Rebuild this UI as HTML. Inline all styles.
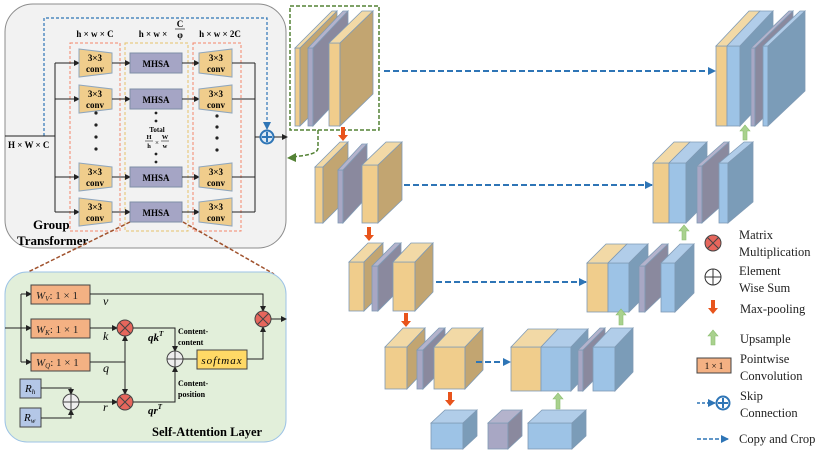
<!DOCTYPE html>
<html><head><meta charset="utf-8"><style>
html,body{margin:0;padding:0;background:#fff;}
svg{display:block;font-family:"Liberation Serif",serif;}
.y{fill:#f0cd8c}.yt{fill:#f2d9a6}.ys{fill:#c2a571}
.p{fill:#a8a7c4}.pt{fill:#b4b3cc}.ps{fill:#8a899e}
.b{fill:#9dc3e6}.bt{fill:#b1cde9}.bs{fill:#7b9cb8}
.blk polygon,.blk rect{stroke:#7f9ab5;stroke-width:.8}
.ln{stroke:#222;stroke-width:1;fill:none}
.cp{stroke:#2e75b6;stroke-width:2;stroke-dasharray:6 3;fill:none}
.bt9{font-weight:bold;font-size:9px}
</style></head><body>
<svg width="830" height="457" viewBox="0 0 830 457" xmlns="http://www.w3.org/2000/svg">
<defs>
<marker id="ah" markerWidth="6" markerHeight="6" refX="5" refY="3" orient="auto" markerUnits="userSpaceOnUse"><path d="M0,0 L6,3 L0,6z" fill="#222"/></marker>
<marker id="bh" markerWidth="8" markerHeight="8" refX="7" refY="4" orient="auto" markerUnits="userSpaceOnUse"><path d="M0,0 L8,4 L0,8z" fill="#2e75b6"/></marker>
<marker id="gh" markerWidth="10" markerHeight="10" refX="8" refY="5" orient="auto" markerUnits="userSpaceOnUse"><path d="M0,0 L10,5 L0,10z" fill="#548235"/></marker>
</defs>

<!-- Group Transformer -->
<rect x="5" y="4" width="281" height="244" rx="28" fill="#f2f2f2" stroke="#8c8c8c" stroke-width="1"/>
<rect x="70" y="43" width="50" height="188" fill="none" stroke="#f4876a" stroke-width="1" stroke-dasharray="3 2"/>
<rect x="125" y="43" width="63" height="188" fill="none" stroke="#e6c36a" stroke-width="1" stroke-dasharray="3 2"/>
<rect x="193" y="43" width="48" height="188" fill="none" stroke="#f4876a" stroke-width="1" stroke-dasharray="3 2"/>
<text x="95" y="37" class="bt9" text-anchor="middle" font-size="10">h × w × C</text>
<text x="153" y="37" class="bt9" text-anchor="middle">h × w ×</text>
<text x="180" y="27" class="bt9" text-anchor="middle">C</text>
<line x1="175" y1="29" x2="185" y2="29" stroke="#222" stroke-width=".7"/>
<text x="180" y="38" class="bt9" text-anchor="middle">φ</text>
<text x="220" y="37" class="bt9" text-anchor="middle">h × w × 2C</text>
<!-- skip dashed -->
<polyline points="44,136 44,18 267,18 267,129" fill="none" stroke="#2e75b6" stroke-width="1.2" stroke-dasharray="3 2" marker-end="url(#bh)"/>
<line x1="5" y1="136" x2="55" y2="136" class="ln"/>
<text x="8" y="148" class="bt9">H × W × C</text>
<line x1="55" y1="63" x2="55" y2="212" class="ln"/>
<line x1="255" y1="63" x2="255" y2="212" class="ln"/>
<line x1="255" y1="137" x2="261" y2="137" class="ln"/>
<circle cx="267" cy="137" r="6.5" fill="#dce9f5" stroke="#2e75b6" stroke-width="2"/>
<line x1="267" y1="132" x2="267" y2="142" stroke="#2e75b6" stroke-width="2"/><line x1="262" y1="137" x2="272" y2="137" stroke="#2e75b6" stroke-width="2"/>
<line x1="274" y1="137" x2="287" y2="137" class="ln" marker-end="url(#ah)"/>

<g id="rows">
<!-- row 63 -->
<line x1="55" y1="63" x2="79" y2="63" class="ln" marker-end="url(#ah)"/>
<polygon points="79,49 112,53 112,73 79,77" fill="#f0cd8c" stroke="#8fa6bd"/>
<text x="95" y="61" class="bt9" text-anchor="middle">3×3</text><text x="95" y="72" class="bt9" text-anchor="middle">conv</text>
<line x1="112" y1="63" x2="130" y2="63" class="ln" marker-end="url(#ah)"/>
<rect x="130" y="53" width="52" height="20" fill="#a5a5c5" stroke="#7f8fa6"/>
<text x="156" y="67" class="bt9" text-anchor="middle">MHSA</text>
<line x1="182" y1="63" x2="199" y2="63" class="ln" marker-end="url(#ah)"/>
<polygon points="199,53 232,49 232,77 199,73" fill="#f0cd8c" stroke="#8fa6bd"/>
<text x="216" y="61" class="bt9" text-anchor="middle">3×3</text><text x="216" y="72" class="bt9" text-anchor="middle">conv</text>
<line x1="232" y1="63" x2="255" y2="63" class="ln"/>
<!-- row 99 -->
<line x1="55" y1="99" x2="79" y2="99" class="ln" marker-end="url(#ah)"/>
<polygon points="79,85 112,89 112,109 79,113" fill="#f0cd8c" stroke="#8fa6bd"/>
<text x="95" y="97" class="bt9" text-anchor="middle">3×3</text><text x="95" y="108" class="bt9" text-anchor="middle">conv</text>
<line x1="112" y1="99" x2="130" y2="99" class="ln" marker-end="url(#ah)"/>
<rect x="130" y="89" width="52" height="20" fill="#a5a5c5" stroke="#7f8fa6"/>
<text x="156" y="103" class="bt9" text-anchor="middle">MHSA</text>
<line x1="182" y1="99" x2="199" y2="99" class="ln" marker-end="url(#ah)"/>
<polygon points="199,89 232,85 232,113 199,109" fill="#f0cd8c" stroke="#8fa6bd"/>
<text x="216" y="97" class="bt9" text-anchor="middle">3×3</text><text x="216" y="108" class="bt9" text-anchor="middle">conv</text>
<line x1="232" y1="99" x2="255" y2="99" class="ln"/>
<!-- row 177 -->
<line x1="55" y1="177" x2="79" y2="177" class="ln" marker-end="url(#ah)"/>
<polygon points="79,163 112,167 112,187 79,191" fill="#f0cd8c" stroke="#8fa6bd"/>
<text x="95" y="175" class="bt9" text-anchor="middle">3×3</text><text x="95" y="186" class="bt9" text-anchor="middle">conv</text>
<line x1="112" y1="177" x2="130" y2="177" class="ln" marker-end="url(#ah)"/>
<rect x="130" y="167" width="52" height="20" fill="#a5a5c5" stroke="#7f8fa6"/>
<text x="156" y="181" class="bt9" text-anchor="middle">MHSA</text>
<line x1="182" y1="177" x2="199" y2="177" class="ln" marker-end="url(#ah)"/>
<polygon points="199,167 232,163 232,191 199,187" fill="#f0cd8c" stroke="#8fa6bd"/>
<text x="216" y="175" class="bt9" text-anchor="middle">3×3</text><text x="216" y="186" class="bt9" text-anchor="middle">conv</text>
<line x1="232" y1="177" x2="255" y2="177" class="ln"/>
<!-- row 212 -->
<line x1="55" y1="212" x2="79" y2="212" class="ln" marker-end="url(#ah)"/>
<polygon points="79,198 112,202 112,222 79,226" fill="#f0cd8c" stroke="#8fa6bd"/>
<text x="95" y="210" class="bt9" text-anchor="middle">3×3</text><text x="95" y="221" class="bt9" text-anchor="middle">conv</text>
<line x1="112" y1="212" x2="130" y2="212" class="ln" marker-end="url(#ah)"/>
<rect x="130" y="202" width="52" height="20" fill="#a5a5c5" stroke="#7f8fa6"/>
<text x="156" y="216" class="bt9" text-anchor="middle">MHSA</text>
<line x1="182" y1="212" x2="199" y2="212" class="ln" marker-end="url(#ah)"/>
<polygon points="199,202 232,198 232,226 199,222" fill="#f0cd8c" stroke="#8fa6bd"/>
<text x="216" y="210" class="bt9" text-anchor="middle">3×3</text><text x="216" y="221" class="bt9" text-anchor="middle">conv</text>
<line x1="232" y1="212" x2="255" y2="212" class="ln"/>
</g>
<g fill="#222">
<circle cx="96" cy="125" r="1.6"/><circle cx="96" cy="137" r="1.6"/><circle cx="96" cy="149" r="1.6"/><circle cx="96" cy="113" r="1.6"/>
<circle cx="217" cy="127" r="1.6"/><circle cx="217" cy="138" r="1.6"/><circle cx="217" cy="150" r="1.6"/><circle cx="217" cy="116" r="1.6"/>
<circle cx="156" cy="113" r="1.4"/><circle cx="156" cy="121" r="1.4"/><circle cx="156" cy="154" r="1.4"/><circle cx="156" cy="162" r="1.4"/>
</g>
<text x="157" y="132" font-size="7" font-weight="bold" text-anchor="middle">Total</text>
<text x="149" y="139" font-size="6.5" font-weight="bold" text-anchor="middle">H</text>
<line x1="145" y1="141" x2="153" y2="141" stroke="#222" stroke-width=".6"/>
<text x="149" y="148" font-size="6.5" font-weight="bold" text-anchor="middle">h</text>
<text x="157" y="145" font-size="7" text-anchor="middle">×</text>
<text x="165" y="139" font-size="6.5" font-weight="bold" text-anchor="middle">W</text>
<line x1="161" y1="141" x2="169" y2="141" stroke="#222" stroke-width=".6"/>
<text x="165" y="148" font-size="6.5" font-weight="bold" text-anchor="middle">w</text>
<text x="33" y="229" font-size="13" font-weight="bold">Group</text>
<text x="17" y="245" font-size="13" font-weight="bold">Transformer</text>
<line x1="130" y1="222" x2="24" y2="274" stroke="#a0522d" stroke-width="1.5" stroke-dasharray="4 2"/>
<line x1="183" y1="222" x2="274" y2="274" stroke="#a0522d" stroke-width="1.5" stroke-dasharray="4 2"/>

<!-- Self-attention -->
<rect x="5" y="272" width="281" height="170" rx="22" fill="#e2efda" stroke="#9dc3e6" stroke-width="1"/>
<line x1="5" y1="328" x2="31" y2="328" class="ln" marker-end="url(#ah)"/>
<polyline points="21,294 21,362" class="ln"/>
<line x1="21" y1="294" x2="31" y2="294" class="ln" marker-end="url(#ah)"/>
<line x1="21" y1="362" x2="31" y2="362" class="ln" marker-end="url(#ah)"/>
<g font-size="11" fill="#222">
<rect x="31" y="285" width="59" height="19" fill="#f4b183" stroke="#444"/>
<text x="36" y="299" font-style="italic">W<tspan font-size="7" dy="2">V</tspan><tspan dy="-2" font-style="normal">: 1 × 1</tspan></text>
<rect x="31" y="319" width="59" height="19" fill="#f4b183" stroke="#444"/>
<text x="36" y="333" font-style="italic">W<tspan font-size="7" dy="2">K</tspan><tspan dy="-2" font-style="normal">: 1 × 1</tspan></text>
<rect x="31" y="353" width="59" height="18" fill="#f4b183" stroke="#444"/>
<text x="36" y="366" font-style="italic">W<tspan font-size="7" dy="2">Q</tspan><tspan dy="-2" font-style="normal">: 1 × 1</tspan></text>
</g>
<rect x="20" y="379" width="21" height="19" fill="#b4c7e7" stroke="#444"/>
<text x="25" y="392" font-size="11" font-style="italic">R<tspan font-size="7" dy="2">h</tspan></text>
<rect x="20" y="408" width="21" height="19" fill="#b4c7e7" stroke="#444"/>
<text x="24" y="421" font-size="11" font-style="italic">R<tspan font-size="7" dy="2">w</tspan></text>
<polyline points="41,388 71,388 71,394" class="ln" marker-end="url(#ah)"/>
<polyline points="41,418 71,418 71,410" class="ln" marker-end="url(#ah)"/>
<circle cx="71" cy="402" r="8" fill="#eee" stroke="#444"/><line x1="63" y1="402" x2="79" y2="402" stroke="#444"/><line x1="71" y1="394" x2="71" y2="410" stroke="#444"/>
<line x1="79" y1="402" x2="117" y2="402" class="ln" marker-end="url(#ah)"/>
<!-- v -->
<polyline points="90,294 263,294 263,311" class="ln" marker-end="url(#ah)"/>
<!-- k -->
<line x1="90" y1="328" x2="117" y2="328" class="ln" marker-end="url(#ah)"/>
<!-- q -->
<line x1="90" y1="362" x2="125" y2="362" class="ln"/>
<line x1="125" y1="362" x2="125" y2="336" class="ln" marker-end="url(#ah)"/>
<line x1="125" y1="362" x2="125" y2="394" class="ln" marker-end="url(#ah)"/>
<circle cx="125" cy="328" r="8" fill="#e6665c" stroke="#444"/><path d="M119.5,322.5 L130.5,333.5 M130.5,322.5 L119.5,333.5" stroke="#444"/>
<circle cx="125" cy="402" r="8" fill="#e6665c" stroke="#444"/><path d="M119.5,396.5 L130.5,407.5 M130.5,396.5 L119.5,407.5" stroke="#444"/>
<polyline points="133,328 175,328 175,351" class="ln" marker-end="url(#ah)"/>
<polyline points="133,402 175,402 175,367" class="ln" marker-end="url(#ah)"/>
<circle cx="175" cy="359" r="8" fill="#eee" stroke="#444"/><line x1="167" y1="359" x2="183" y2="359" stroke="#444"/><line x1="175" y1="351" x2="175" y2="367" stroke="#444"/>
<line x1="183" y1="359" x2="197" y2="359" class="ln"/>
<rect x="197" y="350" width="50" height="19" fill="#ffd966" stroke="#444"/>
<text x="222" y="364" font-size="11" font-style="italic" text-anchor="middle" letter-spacing="1">softmax</text>
<polyline points="247,359 263,359 263,327" class="ln" marker-end="url(#ah)"/>
<circle cx="263" cy="319" r="8" fill="#e6665c" stroke="#444"/><path d="M257.5,313.5 L268.5,324.5 M268.5,313.5 L257.5,324.5" stroke="#444"/>
<line x1="271" y1="319" x2="286" y2="319" class="ln" marker-end="url(#ah)"/>
<g font-size="12" font-style="italic">
<text x="103" y="305">v</text><text x="103" y="340">k</text><text x="103" y="372">q</text><text x="103" y="411">r</text>
</g>
<text x="148" y="341" font-size="11" font-weight="bold" font-style="italic">qk<tspan font-size="7" dy="-5">T</tspan></text>
<text x="148" y="414" font-size="11" font-weight="bold" font-style="italic">qr<tspan font-size="7" dy="-5">T</tspan></text>
<text x="178" y="334" font-size="8" font-weight="bold">Content-</text>
<text x="178" y="345" font-size="8" font-weight="bold">content</text>
<text x="178" y="386" font-size="8" font-weight="bold">Content-</text>
<text x="178" y="397" font-size="8" font-weight="bold">position</text>
<text x="152" y="436" font-size="12.5" font-weight="bold">Self-Attention Layer</text>

<!-- green dashed -->
<rect x="290" y="6" width="89" height="124" fill="none" stroke="#548235" stroke-width="1.5" stroke-dasharray="4 2"/>
<path d="M318,130 L318,148 Q318,154 300,156 L293,157" fill="none" stroke="#548235" stroke-width="1.5" stroke-dasharray="4 2"/>
<polygon points="287,158 296,153 296,162" fill="#548235"/>

<!-- blocks -->
<g class="blk">
<rect class="y" x="295" y="48" width="5" height="78"/><polygon class="yt" points="295,48 332,11 337,11 300,48"/><polygon class="ys" points="300,48 337,11 337,89 300,126"/>
<rect class="p" x="308" y="48" width="5" height="78"/><polygon class="pt" points="308,48 343,11 348,11 313,48"/><polygon class="ps" points="313,48 348,11 348,89 313,126"/>
<rect class="y" x="329" y="43" width="11" height="83"/><polygon class="yt" points="329,43 362,11 373,11 340,43"/><polygon class="ys" points="340,43 373,11 373,94 340,126"/>

<rect class="y" x="315" y="167" width="8" height="56"/><polygon class="yt" points="315,167 340,142 348,142 323,167"/><polygon class="ys" points="323,167 348,142 348,198 323,223"/>
<rect class="p" x="338" y="170" width="5" height="53"/><polygon class="pt" points="338,170 362,144 367,144 343,170"/><polygon class="ps" points="343,170 367,144 367,197 343,223"/>
<rect class="y" x="362" y="165" width="16" height="58"/><polygon class="yt" points="362,165 386,142 402,142 378,165"/><polygon class="ys" points="378,165 402,142 402,200 378,223"/>

<rect class="y" x="349" y="262" width="15" height="49"/><polygon class="yt" points="349,262 368,243 383,243 364,262"/><polygon class="ys" points="364,262 383,243 383,292 364,311"/>
<rect class="p" x="372" y="266" width="6" height="45"/><polygon class="pt" points="372,266 395,243 401,243 378,266"/><polygon class="ps" points="378,266 401,243 401,288 378,311"/>
<rect class="y" x="393" y="262" width="22" height="49"/><polygon class="yt" points="393,262 411,243 433,243 415,262"/><polygon class="ys" points="415,262 433,243 433,292 415,311"/>

<rect class="y" x="385" y="347" width="22" height="42"/><polygon class="yt" points="385,347 403,328 425,328 407,347"/><polygon class="ys" points="407,347 425,328 425,370 407,389"/>
<rect class="p" x="417" y="350" width="6" height="39"/><polygon class="pt" points="417,350 439,328 445,328 423,350"/><polygon class="ps" points="423,350 445,328 445,367 423,389"/>
<rect class="y" x="434" y="347" width="31" height="42"/><polygon class="yt" points="434,347 452,328 483,328 465,347"/><polygon class="ys" points="465,347 483,328 483,370 465,389"/>

<rect class="b" x="431" y="423" width="32" height="26"/><polygon class="bt" points="431,423 445,410 477,410 463,423"/><polygon class="bs" points="463,423 477,410 477,436 463,449"/>
<rect class="p" x="488" y="423" width="20" height="26"/><polygon class="pt" points="488,423 502,410 522,410 508,423"/><polygon class="ps" points="508,423 522,410 522,436 508,449"/>
<rect class="b" x="528" y="423" width="44" height="26"/><polygon class="bt" points="528,423 542,410 586,410 572,423"/><polygon class="bs" points="572,423 586,410 586,436 572,449"/>

<rect class="y" x="511" y="347" width="30" height="44"/><rect class="b" x="541" y="347" width="30" height="44"/>
<polygon class="yt" points="511,347 528,329 558,329 541,347"/><polygon class="bt" points="541,347 558,329 588,329 571,347"/><polygon class="bs" points="571,347 588,329 588,373 571,391"/>
<rect class="p" x="578" y="350" width="5" height="41"/><polygon class="pt" points="578,350 600,328 605,328 583,350"/><polygon class="ps" points="583,350 605,328 605,369 583,391"/>
<rect class="b" x="593" y="347" width="22" height="44"/><polygon class="bt" points="593,347 611,328 633,328 615,347"/><polygon class="bs" points="615,347 633,328 633,372 615,391"/>

<rect class="y" x="587" y="263" width="21" height="49"/><rect class="b" x="608" y="263" width="21" height="49"/>
<polygon class="yt" points="587,263 606,244 627,244 608,263"/><polygon class="bt" points="608,263 627,244 648,244 629,263"/><polygon class="bs" points="629,263 648,244 648,293 629,312"/>
<rect class="p" x="639" y="266" width="6" height="46"/><polygon class="pt" points="639,266 662,244 668,244 645,266"/><polygon class="ps" points="645,266 668,244 668,290 645,312"/>
<rect class="b" x="661" y="263" width="14" height="49"/><polygon class="bt" points="661,263 680,244 694,244 675,263"/><polygon class="bs" points="675,263 694,244 694,293 675,312"/>

<rect class="y" x="653" y="163" width="16" height="60"/><rect class="b" x="669" y="163" width="17" height="60"/>
<polygon class="yt" points="653,163 674,142 690,142 669,163"/><polygon class="bt" points="669,163 690,142 707,142 686,163"/><polygon class="bs" points="686,163 707,142 707,202 686,223"/>
<rect class="p" x="697" y="166" width="5" height="57"/><polygon class="pt" points="697,166 724,142 729,142 702,166"/><polygon class="ps" points="702,166 729,142 729,199 702,223"/>
<rect class="b" x="719" y="163" width="9" height="60"/><polygon class="bt" points="719,163 744,142 753,142 728,163"/><polygon class="bs" points="728,163 753,142 753,202 728,223"/>

<rect class="y" x="716" y="46" width="11" height="80"/><rect class="b" x="727" y="46" width="13" height="80"/>
<polygon class="yt" points="716,46 749,11 760,11 727,46"/><polygon class="bt" points="727,46 760,11 773,11 740,46"/><polygon class="bs" points="740,46 773,11 773,91 740,126"/>
<rect class="p" x="751" y="48" width="4" height="78"/><polygon class="pt" points="751,48 789,11 793,11 755,48"/><polygon class="ps" points="755,48 793,11 793,89 755,126"/>
<rect class="b" x="763" y="46" width="5" height="80"/><polygon class="bt" points="763,46 800,11 805,11 768,46"/><polygon class="bs" points="768,46 805,11 805,91 768,126"/>
</g>

<!-- copy and crop -->
<line x1="384" y1="71" x2="715" y2="71" class="cp" marker-end="url(#bh)"/>
<line x1="404" y1="185" x2="652" y2="185" class="cp" marker-end="url(#bh)"/>
<line x1="436" y1="282" x2="586" y2="282" class="cp" marker-end="url(#bh)"/>
<line x1="476" y1="362" x2="510" y2="362" class="cp" marker-end="url(#bh)"/>

<!-- red arrows -->
<g fill="#e8541c">
<polygon points="341,127 345,127 345,135 348,135 343,141 338,135 341,135"/>
<polygon points="367,227 371,227 371,235 374,235 369,241 364,235 367,235"/>
<polygon points="404,313 408,313 408,321 411,321 406,327 401,321 404,321"/>
<polygon points="448,392 452,392 452,400 455,400 450,406 445,400 448,400"/>
<polygon points="711,300 715,300 715,308 718,308 713,314 708,308 711,308"/>
</g>
<!-- green arrows -->
<g fill="#a9d18e" stroke="#8cbf70" stroke-width=".6">
<polygon points="556,409 560,409 560,399 563,399 558,393 553,399 556,399"/>
<polygon points="619,325 623,325 623,315 626,315 621,309 616,315 619,315"/>
<polygon points="682,240 686,240 686,231 689,231 684,225 679,231 682,231"/>
<polygon points="743,140 747,140 747,131 750,131 745,125 740,131 743,131"/>
<polygon points="711,345 715,345 715,336 718,336 713,330 708,336 711,336"/>
</g>

<!-- legend -->
<circle cx="713" cy="243" r="8" fill="#e6665c" stroke="#444"/><path d="M707.5,237.5 L718.5,248.5 M718.5,237.5 L707.5,248.5" stroke="#444"/>
<circle cx="713" cy="277" r="8" fill="#fff" stroke="#333"/><line x1="705" y1="277" x2="721" y2="277" stroke="#333"/><line x1="713" y1="269" x2="713" y2="285" stroke="#333"/>
<g font-size="12.5" fill="#222">
<text x="739" y="239">Matrix</text><text x="739" y="256">Multiplication</text>
<text x="739" y="275">Element</text><text x="739" y="292">Wise Sum</text>
<text x="740" y="313">Max-pooling</text>
<text x="740" y="343">Upsample</text>
<text x="740" y="363">Pointwise</text><text x="740" y="380">Convolution</text>
<text x="740" y="400">Skip</text><text x="740" y="417">Connection</text>
<text x="739" y="443">Copy and Crop</text>
</g>
<rect x="697" y="358" width="34" height="15" fill="#f4b183" stroke="#444"/>
<text x="714" y="369" font-size="9" text-anchor="middle">1 × 1</text>
<line x1="697" y1="403" x2="715" y2="403" stroke="#2e75b6" stroke-width="1.5" stroke-dasharray="3 2" marker-end="url(#bh)"/>
<circle cx="723" cy="403" r="6.5" fill="#fff" stroke="#2e75b6" stroke-width="2"/>
<line x1="723" y1="398" x2="723" y2="408" stroke="#2e75b6" stroke-width="2"/><line x1="718" y1="403" x2="728" y2="403" stroke="#2e75b6" stroke-width="2"/>
<line x1="697" y1="439" x2="728" y2="439" stroke="#2e75b6" stroke-width="1.5" stroke-dasharray="4 2" marker-end="url(#bh)"/>
</svg>
</body></html>
